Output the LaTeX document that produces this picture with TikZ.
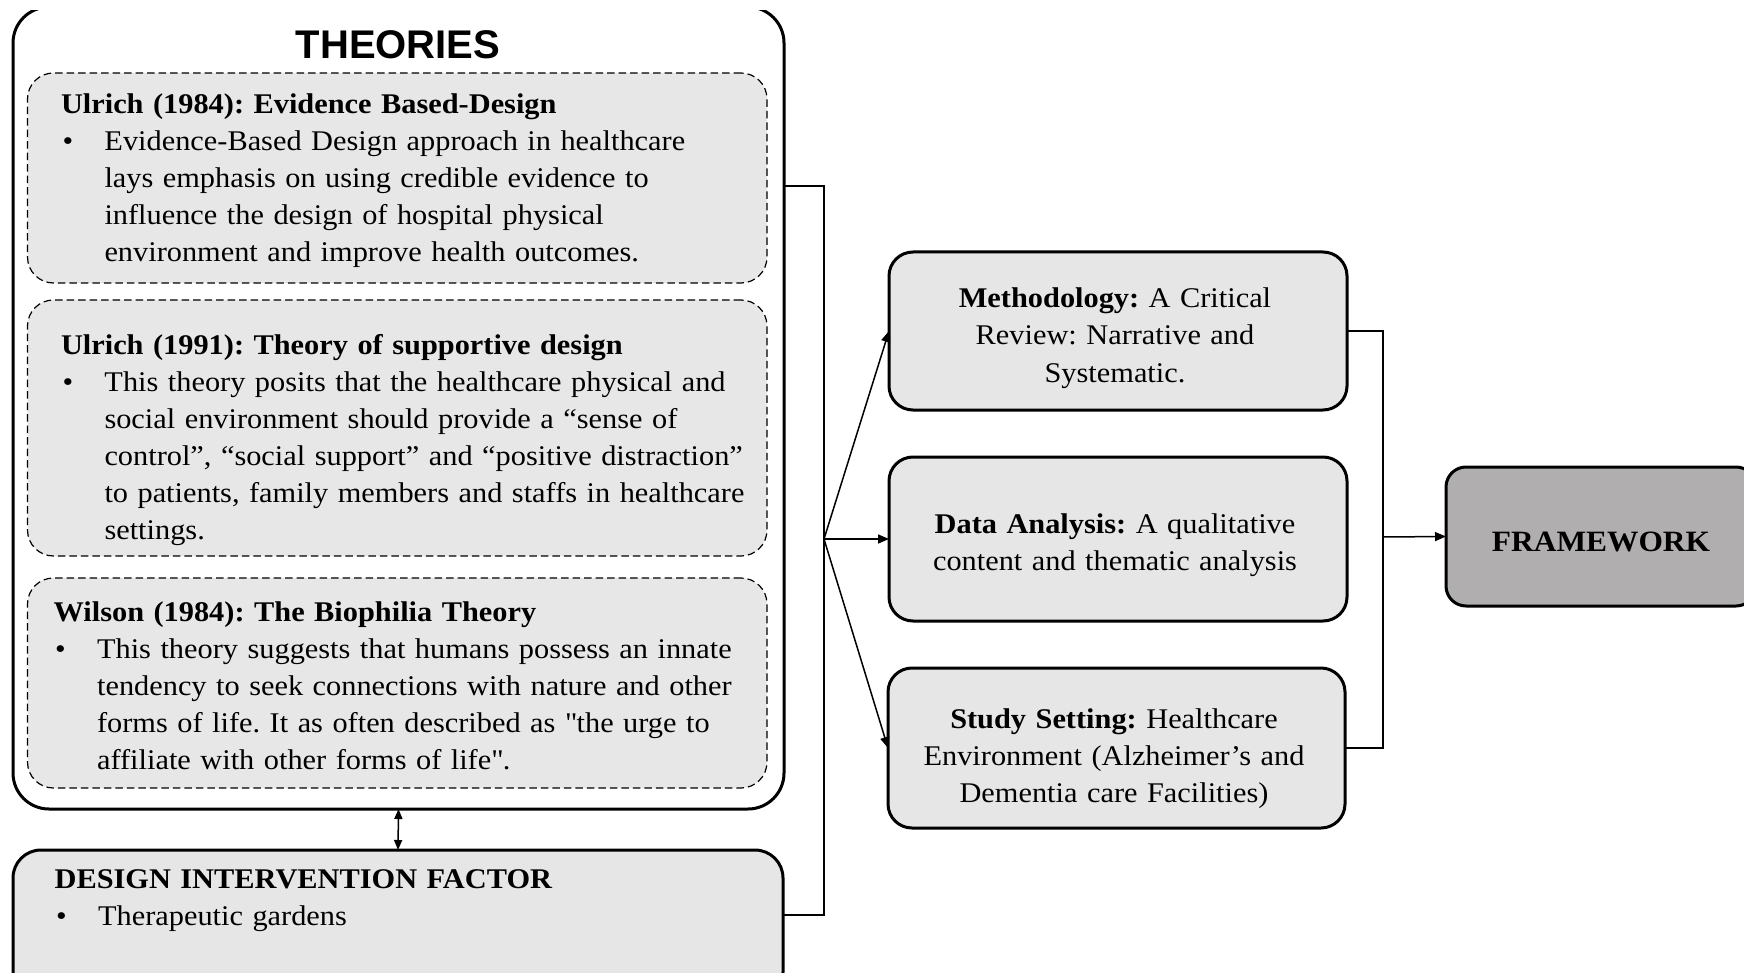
\documentclass[tikz,border=0pt]{standalone}
\usepackage{fontspec}
\setmainfont[FakeStretch=1.065]{Liberation Serif}
\newfontfamily\headfont{Liberation Sans}
\usetikzlibrary{arrows.meta}
\definecolor{boxfill}{RGB}{230,230,230}
\definecolor{dashfill}{RGB}{231,231,231}
\definecolor{framefill}{RGB}{176,174,174}
\newcommand{\bul}{\noindent\hangindent=43.5pt\hangafter=1\makebox[43.5pt][l]{\hspace{1.5pt}•}}
\begin{document}
\frenchspacing
\begin{tikzpicture}[x=1pt,y=-1pt,
  every node/.style={inner sep=0pt, outer sep=0pt},
  outerbox/.style={draw, line width=3pt, rounded corners=36pt, anchor=north west},
  dashbox/.style={draw, dash pattern=on 7.5pt off 4pt, line width=1.2pt, fill=dashfill, rounded corners=26pt, anchor=north west},
  midbox/.style={draw, line width=3pt, fill=boxfill, rounded corners=24pt, anchor=north west},
  leftbox/.style={draw, line width=3pt, fill=boxfill, rounded corners=28pt, anchor=north west},
  framebox/.style={draw, line width=3pt, fill=framefill, rounded corners=20pt, anchor=north west},
  lefttext/.style={anchor=north west, text width=700pt, align=left, font=\fontsize{28.5}{37}\selectfont\frenchspacing},
  midtext/.style={anchor=north, text width=450pt, align=center, font=\fontsize{28.5}{37}\selectfont\frenchspacing},
  conn/.style={line width=1.5pt},
  arr/.style={conn, -{Triangle[length=11pt,width=9pt]}},
  dblarr/.style={conn, {Triangle[length=10pt,width=8pt]}-{Triangle[length=10pt,width=8pt]}}
]
\useasboundingbox (0,0) rectangle (1744,973);
\clip (0,11) rectangle (1744,973);

% left column
\node[outerbox, minimum width=771pt, minimum height=802pt] (theories) at (13,7) {};
\node[font=\headfont\bfseries\fontsize{40}{48}\selectfont, anchor=base] (theoriestitle) at (398,58.3) {THEORIES};

\node[dashbox, minimum width=739.5pt, minimum height=210pt] (d1) at (27.5,73) {};
\node[dashbox, minimum width=739.5pt, minimum height=256pt] (d2) at (27.5,300) {};
\node[dashbox, minimum width=739.5pt, minimum height=210pt] (d3) at (27.5,578) {};

\node[lefttext] (t1) at (61,87.4) {\noindent\strut\textbf{Ulrich (1984): Evidence Based-Design}\par
\bul Evidence-Based Design approach in healthcare\newline lays emphasis on using credible evidence to\newline influence the design of hospital physical\newline environment and improve health outcomes.\par};

\node[lefttext] (t2) at (61,328.1) {\noindent\strut\textbf{Ulrich (1991): Theory of supportive design}\par
\bul This theory posits that the healthcare physical and\newline social environment should provide a “sense of\newline control”, “social support” and “positive distraction”\newline to patients, family members and staffs in healthcare\newline settings.\par};

\node[lefttext] (t3) at (53.6,595.1) {\noindent\strut\textbf{Wilson (1984): The Biophilia Theory}\par
\bul This theory suggests that humans possess an innate\newline tendency to seek connections with nature and other\newline forms of life. It as often described as \textquotedbl the urge to\newline affiliate with other forms of life\textquotedbl.\par};

\node[leftbox, minimum width=770pt, minimum height=150pt] (design) at (13,850) {};
\node[lefttext] (t4) at (54.6,862.1) {\noindent\strut\textbf{DESIGN INTERVENTION FACTOR}\par
\bul Therapeutic gardens\par};

% middle column
\node[midbox, minimum width=458pt, minimum height=158pt] (meth) at (889,252) {};
\node[midtext] (mt) at (1115,282.1) {\strut\textbf{Methodology:} A Critical\\Review: Narrative and\\Systematic.};

\node[midbox, minimum width=458pt, minimum height=164pt] (data) at (889,457) {};
\node[midtext] (dt) at (1115,507.1) {\strut\textbf{Data Analysis:} A qualitative\\content and thematic analysis};

\node[midbox, minimum width=457pt, minimum height=160pt] (study) at (888,668) {};
\node[midtext] (st) at (1114,702.1) {\strut\textbf{Study Setting:} Healthcare\\Environment (Alzheimer’s and\\Dementia care Facilities)};

% framework
\node[framebox, minimum width=310pt, minimum height=139pt, font=\bfseries\fontsize{29.5}{36}\selectfont, text height=29.2pt, text depth=0pt] (frame) at (1446,467) {FRAMEWORK};

% connectors
\coordinate (lt) at (824,186);
\coordinate (lb) at (824,915);
\coordinate (lj) at (824,539);
\coordinate (rj) at (1383,537);

\draw[conn] (theories.east |- lt) -- (lt) -- (lb) -- (design.east |- lb);
\draw[arr] (lj) -- (meth.west);
\draw[arr] (lj) -- (data.west);
\draw[arr] (lj) -- (study.west);

\draw[conn] (meth.east) -| (rj);
\draw[conn] (study.east) -| (rj);
\draw[arr] (rj) -- (frame.west);

\draw[dblarr] (theories.south) -- (design.north);
\end{tikzpicture}
\end{document}
